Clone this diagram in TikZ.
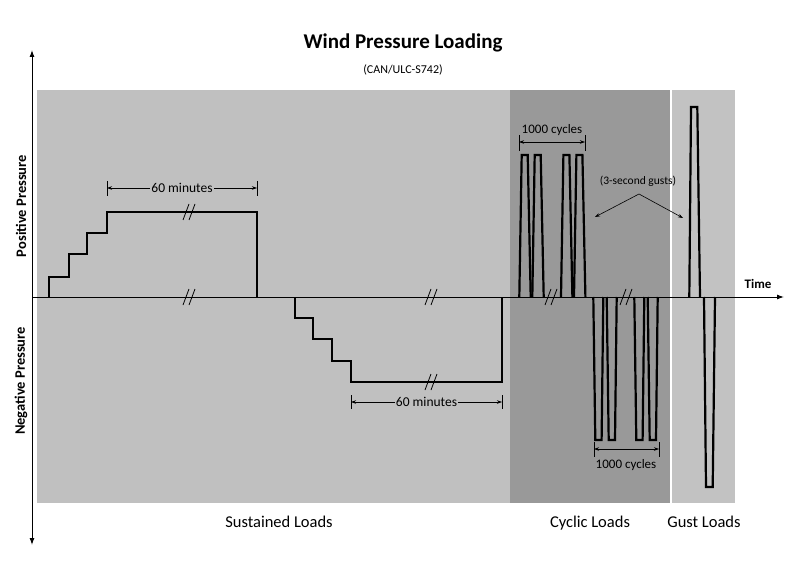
\documentclass[tikz,border=0pt]{standalone}
\usepackage{fontspec}
\setmainfont{Carlito}
\usetikzlibrary{arrows.meta}

\definecolor{sust}{HTML}{C0C0C0}
\definecolor{cyc}{HTML}{999999}
\definecolor{gust}{HTML}{C2C2C2}

\newcommand{\brk}[2]{%
  \draw[line width=0.8pt] ({#1-5},{#2+8}) -- ({#1+1},{#2-8});
  \draw[line width=0.8pt] ({#1+1},{#2+8}) -- ({#1+7},{#2-8});}

\begin{document}
\begin{tikzpicture}[x=1pt,y=-1pt]
  \useasboundingbox (0,0) rectangle (800,580);

  \fill[sust] (37,90) rectangle (510,503);
  \fill[cyc] (510,90) rectangle (670,503);
  \fill[gust] (672,90) rectangle (735,503);

  \tikzset{axis/.style={line width=1pt, -{Latex[length=7pt,width=5pt]}},
           load/.style={line width=2.6pt},
           pulse/.style={line width=2.2pt},
           dim arc/.style={<->, >={Stealth[length=5pt,width=3.5pt]}, line width=0.6pt},
           tick/.style={line width=0.6pt}}

  \begin{scope}[every node/.style={font=\fontsize{16.5}{18}\selectfont, anchor=base}]
      \node (sl) at (279,527) {Sustained Loads};
      \node (cl) at (590,527) {Cyclic Loads};
      \node (gl) at (704,527) {Gust Loads};
  \end{scope}

  \node[font=\bfseries\fontsize{21}{24}\selectfont] (title) at (403,43) {Wind Pressure Loading};
  \node[font=\fontsize{12}{14}\selectfont] (sub) at (403,70) {(CAN/ULC-S742)};
  \node[font=\bfseries\fontsize{13}{15}\selectfont] (time) at (758,284) {Time};
  \node[font=\bfseries\fontsize{14.5}{16}\selectfont, rotate=90] (pos) at (21,206) {Positive Pressure};
  \node[font=\bfseries\fontsize{14.5}{16}\selectfont, rotate=90] (neg) at (21,381) {Negative Pressure};

  \coordinate (top) at (32,50);
  \coordinate (bot) at (32,545);
  \coordinate (orig) at (32,297);
  \coordinate (end) at (784,297);
  \draw[axis, {Latex[length=7pt,width=5pt]}-{Latex[length=7pt,width=5pt]}] (top) -- (bot);
  \draw[axis] (orig) -- (end);

  \draw[load] (49,297) -- (49,277) -- (69,277) -- (69,254) -- (87,254) -- (87,233)
    -- (107,233) -- (107,212) -- (257,212) -- (257,297);
  \draw[load] (295,297) -- (295,318) -- (313,318) -- (313,339) -- (332,339) -- (332,361)
    -- (351,361) -- (351,382) -- (502,382) -- (502,297);

  \foreach \p in {519.3,532.3,561,574}
    \draw[pulse] (\p,297) -- ({\p+2.4},155) -- ({\p+8.4},155) -- ({\p+11.4},297);
  \foreach \p in {593.3,606.7,634.3,647.7}
    \draw[pulse] (\p,297) -- ({\p+2},440) -- ({\p+8.3},440) -- ({\p+10},297);
  \draw[pulse] (689.3,297) -- (691,107) -- (697.3,107) -- (700,297);
  \draw[pulse] (704,297) -- (706,487) -- (712.7,487) -- (715,297);

  \brk{188}{212}
  \brk{188}{297}
  \brk{430}{297}
  \brk{430}{382}
  \brk{550}{297}
  \brk{625}{297}

  \coordinate (m1a) at (107,188);
  \coordinate (m1b) at (257,188);
  \draw[tick] (107,181) -- (107,196);
  \draw[tick] (257,181) -- (257,196);
  \draw[dim arc] (m1a) -- node[fill=sust, inner sep=1pt, font=\fontsize{13.5}{15}\selectfont] (m1) {60 minutes} (m1b);

  \coordinate (m2a) at (351,402);
  \coordinate (m2b) at (502,402);
  \draw[tick] (351,395) -- (351,409);
  \draw[tick] (502,395) -- (502,409);
  \draw[dim arc] (m2a) -- node[fill=sust, inner sep=1pt, font=\fontsize{13.5}{15}\selectfont] (m2) {60 minutes} (m2b);

  \coordinate (c1a) at (519,142);
  \coordinate (c1b) at (585,142);
  \draw[tick] (519,135) -- (519,151);
  \draw[tick] (585,135) -- (585,151);
  \draw[dim arc] (c1a) -- (c1b);
  \node[font=\fontsize{13}{14}\selectfont] (c1) at (552,130) {1000 cycles};

  \coordinate (c2a) at (594,449);
  \coordinate (c2b) at (659,449);
  \draw[tick] (594,442) -- (594,457);
  \draw[tick] (659,442) -- (659,457);
  \draw[dim arc] (c2a) -- (c2b);
  \node[font=\fontsize{13}{14}\selectfont] (c2) at (626,465) {1000 cycles};

  \node[font=\fontsize{11.5}{13}\selectfont] (gusts) at (638,181) {(3-second gusts)};
  \coordinate (apex) at (639,194);
  \coordinate (g1) at (595,217);
  \coordinate (g2) at (683,218);
  \draw[-{Stealth[length=5pt,width=3.5pt]}, line width=0.6pt] (apex) -- (g1);
  \draw[-{Stealth[length=5pt,width=3.5pt]}, line width=0.6pt] (apex) -- (g2);
\end{tikzpicture}
\end{document}
